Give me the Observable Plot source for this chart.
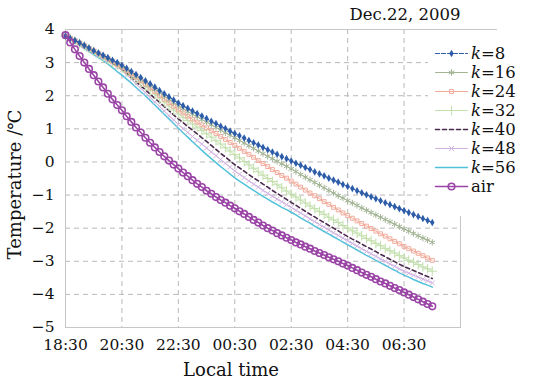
<!DOCTYPE html>
<html><head><meta charset="utf-8">
<script src="https://cdn.jsdelivr.net/npm/d3@7"></script>
<script src="https://cdn.jsdelivr.net/npm/@observablehq/plot@0.6"></script>
<style>
body{margin:0;background:#fff;}
#wrap{position:relative;width:534px;height:381px;overflow:hidden;}
#chart{position:absolute;left:0;top:0;}
#legbox{position:absolute;left:428px;top:29px;width:69px;height:186px;background:#fff;border-top:1px solid #c6c6c6;}
#leg{position:absolute;left:428px;top:29px;}
</style></head><body>
<div id="wrap"><div id="chart"></div><div id="legbox"></div><div id="leg"></div></div>
<script>
const title = "Dec.22, 2009";
const xLabel = "Local time";
const yLabel = "Temperature /℃";
const startLabel = "18:30";
const stepMinutes = 10;
const xDomainLabels = ["18:30", "08:30"];
const xTickLabels = ["18:30","20:30","22:30","00:30","02:30","04:30","06:30"];
const yTicks = [-5,-4,-3,-2,-1,0,1,2,3,4];
const seriesNames = ["k=8","k=16","k=24","k=32","k=40","k=48","k=56","air"];

const k8 = [3.80,3.73,3.67,3.60,3.52,3.44,3.36,3.29,3.22,3.15,3.07,3.00,2.92,2.83,2.73,2.64,2.55,2.45,2.36,2.26,2.16,2.06,1.97,1.87,1.78,1.70,1.62,1.54,1.46,1.39,1.31,1.23,1.16,1.08,1.01,0.93,0.86,0.79,0.72,0.65,0.58,0.51,0.44,0.37,0.30,0.23,0.16,0.10,0.03,-0.04,-0.10,-0.17,-0.23,-0.30,-0.36,-0.42,-0.49,-0.55,-0.61,-0.68,-0.74,-0.80,-0.87,-0.93,-0.99,-1.05,-1.11,-1.17,-1.23,-1.29,-1.35,-1.41,-1.47,-1.53,-1.59,-1.65,-1.71,-1.77,-1.83];
const k16 = [3.80,3.73,3.66,3.59,3.51,3.43,3.35,3.28,3.20,3.13,3.05,2.97,2.89,2.79,2.70,2.60,2.50,2.40,2.30,2.20,2.09,1.99,1.89,1.79,1.69,1.61,1.52,1.44,1.36,1.28,1.20,1.12,1.04,0.96,0.88,0.81,0.73,0.65,0.57,0.49,0.41,0.33,0.25,0.17,0.10,0.02,-0.06,-0.13,-0.21,-0.29,-0.38,-0.46,-0.54,-0.62,-0.70,-0.78,-0.86,-0.94,-1.02,-1.09,-1.17,-1.24,-1.31,-1.39,-1.46,-1.53,-1.60,-1.67,-1.74,-1.81,-1.88,-1.95,-2.02,-2.09,-2.16,-2.23,-2.30,-2.36,-2.43];
const k24 = [3.80,3.73,3.66,3.59,3.51,3.43,3.35,3.27,3.19,3.11,3.03,2.94,2.86,2.76,2.66,2.56,2.45,2.35,2.24,2.13,2.01,1.90,1.79,1.68,1.57,1.48,1.38,1.29,1.20,1.12,1.03,0.94,0.86,0.77,0.68,0.59,0.50,0.41,0.32,0.23,0.14,0.04,-0.05,-0.14,-0.23,-0.32,-0.41,-0.49,-0.58,-0.67,-0.76,-0.85,-0.94,-1.02,-1.11,-1.20,-1.28,-1.37,-1.45,-1.54,-1.62,-1.70,-1.78,-1.86,-1.94,-2.01,-2.09,-2.17,-2.24,-2.32,-2.40,-2.47,-2.55,-2.62,-2.69,-2.76,-2.83,-2.90,-2.97];
const k32 = [3.80,3.73,3.65,3.58,3.50,3.42,3.34,3.26,3.17,3.09,3.00,2.92,2.83,2.72,2.62,2.51,2.40,2.28,2.17,2.05,1.93,1.81,1.69,1.57,1.45,1.35,1.25,1.15,1.05,0.95,0.85,0.75,0.64,0.54,0.43,0.33,0.22,0.12,0.01,-0.09,-0.19,-0.30,-0.40,-0.50,-0.59,-0.69,-0.78,-0.88,-0.97,-1.06,-1.15,-1.24,-1.33,-1.41,-1.50,-1.58,-1.67,-1.75,-1.83,-1.92,-2.00,-2.08,-2.15,-2.23,-2.31,-2.38,-2.46,-2.53,-2.61,-2.68,-2.75,-2.83,-2.90,-2.97,-3.03,-3.10,-3.17,-3.23,-3.30];
const k40 = [3.80,3.73,3.65,3.58,3.50,3.41,3.33,3.25,3.16,3.08,2.99,2.89,2.80,2.68,2.55,2.43,2.30,2.18,2.05,1.92,1.80,1.67,1.55,1.42,1.30,1.19,1.07,0.96,0.85,0.73,0.62,0.50,0.38,0.26,0.15,0.03,-0.08,-0.18,-0.28,-0.38,-0.48,-0.57,-0.67,-0.76,-0.86,-0.95,-1.04,-1.13,-1.22,-1.31,-1.40,-1.49,-1.58,-1.66,-1.75,-1.83,-1.92,-2.00,-2.08,-2.17,-2.25,-2.33,-2.40,-2.48,-2.56,-2.63,-2.71,-2.79,-2.86,-2.94,-3.01,-3.09,-3.16,-3.22,-3.28,-3.34,-3.40,-3.46,-3.52];
const k48 = [3.80,3.72,3.65,3.57,3.49,3.40,3.32,3.23,3.15,3.06,2.96,2.87,2.77,2.63,2.50,2.36,2.22,2.09,1.95,1.81,1.68,1.54,1.40,1.27,1.13,1.01,0.89,0.77,0.65,0.54,0.42,0.30,0.19,0.07,-0.04,-0.16,-0.27,-0.37,-0.47,-0.57,-0.67,-0.76,-0.86,-0.95,-1.03,-1.12,-1.20,-1.29,-1.37,-1.46,-1.54,-1.63,-1.72,-1.80,-1.89,-1.97,-2.06,-2.14,-2.22,-2.30,-2.38,-2.46,-2.54,-2.62,-2.70,-2.77,-2.85,-2.93,-3.00,-3.08,-3.15,-3.23,-3.30,-3.36,-3.42,-3.48,-3.54,-3.59,-3.65];
const k56 = [3.80,3.71,3.62,3.53,3.43,3.34,3.24,3.15,3.06,2.96,2.85,2.73,2.62,2.50,2.38,2.25,2.12,1.99,1.86,1.72,1.58,1.44,1.30,1.16,1.02,0.88,0.75,0.61,0.48,0.35,0.22,0.10,-0.02,-0.14,-0.25,-0.37,-0.48,-0.58,-0.67,-0.77,-0.86,-0.95,-1.04,-1.12,-1.21,-1.29,-1.37,-1.44,-1.52,-1.60,-1.69,-1.77,-1.85,-1.94,-2.02,-2.10,-2.18,-2.26,-2.34,-2.42,-2.50,-2.58,-2.66,-2.74,-2.82,-2.89,-2.97,-3.05,-3.12,-3.20,-3.27,-3.35,-3.42,-3.48,-3.55,-3.61,-3.67,-3.72,-3.78];
const air = [3.83,3.61,3.40,3.20,3.00,2.81,2.62,2.43,2.25,2.06,1.89,1.72,1.56,1.38,1.21,1.04,0.89,0.73,0.58,0.44,0.30,0.17,0.04,-0.08,-0.20,-0.32,-0.43,-0.55,-0.66,-0.76,-0.87,-0.96,-1.06,-1.15,-1.23,-1.32,-1.40,-1.49,-1.57,-1.66,-1.75,-1.83,-1.92,-2.00,-2.07,-2.15,-2.22,-2.29,-2.36,-2.43,-2.49,-2.56,-2.62,-2.69,-2.75,-2.81,-2.88,-2.94,-3.00,-3.07,-3.13,-3.20,-3.27,-3.34,-3.41,-3.47,-3.54,-3.61,-3.67,-3.74,-3.81,-3.87,-3.94,-4.01,-4.08,-4.15,-4.22,-4.29,-4.36];

const seriesValues = [k8, k16, k24, k32, k40, k48, k56, air];

const seriesStyle = {
  "k=8":  {stroke: "#2d5ca9", dash: "4,2", width: 1.2, symbol: "diamond", r: 2.3, fill: "#2d5ca9"},
  "k=16": {stroke: "#a3b494", width: 1, symbol: "asterisk", r: 3.0},
  "k=24": {stroke: "#f2ab9b", width: 1, symbol: "square2", r: 2.5},
  "k=32": {stroke: "#c2dfac", width: 1, symbol: "plus", r: 3.2},
  "k=40": {stroke: "#4a2a4c", dash: "4,3", width: 1.6},
  "k=48": {stroke: "#d1b2e1", width: 1, symbol: "times", r: 2.3},
  "k=56": {stroke: "#50c2da", width: 1.5},
  "air":  {stroke: "#9a45a6", width: 1.6, symbol: "circle", r: 3.3, markerWidth: 1.6}
};

function toDate(lbl) {
  const [h, m] = lbl.split(":").map(Number);
  return new Date(Date.UTC(2009, 11, h >= 12 ? 22 : 23, h, m));
}
const start = toDate(startLabel);
const xTicks = xTickLabels.map(toDate);

const seriesData = seriesNames.map((name, si) =>
  seriesValues[si].map((v, i) => ({series: name, t: new Date(start.getTime() + i * stepMinutes * 60000), v}))
);

const font = "'DejaVu Serif', serif";
const seriesMarks = [];
const order = [6, 5, 4, 3, 2, 1, 0, 7];
for (const si of order) {
  const name = seriesNames[si];
  const s = seriesStyle[name];
  const data = seriesData[si];
  seriesMarks.push(Plot.line(data, {x: "t", y: "v", stroke: s.stroke, strokeWidth: s.width, strokeDasharray: s.dash}));
  if (s.symbol) {
    const filled = !!s.fill;
    seriesMarks.push(Plot.dot(data, {x: "t", y: "v", symbol: s.symbol, r: s.r,
      fill: filled ? s.fill : "none", stroke: filled ? "none" : s.stroke, strokeWidth: s.markerWidth || 1}));
  }
}

const chart = Plot.plot({
  width: 534, height: 381,
  marginTop: 29, marginBottom: 54, marginLeft: 65, marginRight: 74,
  style: {fontFamily: font, fontSize: "15px", background: "#fff", color: "#111", overflow: "visible"},
  x: {type: "utc", domain: xDomainLabels.map(toDate)},
  y: {domain: [yTicks[0], yTicks[yTicks.length - 1]]},
  marks: [
    Plot.gridY(yTicks, {stroke: "#b9b9b9", strokeOpacity: 1, strokeDasharray: "5,4"}),
    Plot.gridX(xTicks, {stroke: "#b9b9b9", strokeOpacity: 1, strokeDasharray: "5,4"}),
    Plot.frame({stroke: "#c6c6c6"}),
    Plot.axisY(yTicks, {tickSize: 0, tickPadding: 11, label: null, fontSize: 15.5}),
    Plot.axisX(xTicks, {tickSize: 0, tickPadding: 11, label: null, fontSize: 15.5, tickFormat: d3.utcFormat("%H:%M")}),
    ...seriesMarks,
    Plot.text([title], {text: d => d, frameAnchor: "top-right", lineAnchor: "middle", textAnchor: "end", dy: -15, fontSize: 16.5}),
    Plot.text([xLabel], {text: d => d, frameAnchor: "bottom", lineAnchor: "middle", textAnchor: "middle", dx: -32, dy: 43, fontSize: 18}),
    Plot.text([yLabel], {text: d => d, frameAnchor: "left", lineAnchor: "middle", textAnchor: "middle", rotate: -90, dx: -50, dy: 6, fontSize: 18})
  ]
});
document.getElementById("chart").appendChild(chart);

// legend
const legMarks = [];
seriesNames.forEach(name => {
  const s = seriesStyle[name];
  const seg = [{x: 0, n: name}, {x: 1, n: name}];
  legMarks.push(Plot.line(seg, {x: "x", y: "n", stroke: s.stroke, strokeWidth: s.width, strokeDasharray: s.dash}));
  if (s.symbol) {
    const filled = !!s.fill;
    legMarks.push(Plot.dot([{x: 0.5, n: name}], {x: "x", y: "n", symbol: s.symbol, r: s.r,
      fill: filled ? s.fill : "none", stroke: filled ? "none" : s.stroke, strokeWidth: s.markerWidth || 1}));
  }
});
legMarks.push(Plot.text(seriesNames, {x: () => 1, y: d => d, text: d => d, dx: 3.5, textAnchor: "start", fontSize: 16.5, className: "legtxt"}));

const leg = Plot.plot({
  width: 106, height: 186, margin: 0,
  style: {fontFamily: font, fontSize: "16.5px", background: "transparent", color: "#111", overflow: "visible"},
  x: {domain: [0, 1], range: [7, 39], axis: null},
  y: {type: "point", domain: seriesNames, range: [14, 167], axis: null},
  marks: legMarks
});
document.getElementById("leg").appendChild(leg);
d3.select(leg).selectAll(".legtxt text").each(function() {
  const t = this.textContent;
  if (t.startsWith("k=")) {
    const sel = d3.select(this);
    sel.text(null);
    sel.append("tspan").attr("font-style", "italic").text("k");
    sel.append("tspan").text(t.slice(1));
  }
});
</script>
</body></html>
